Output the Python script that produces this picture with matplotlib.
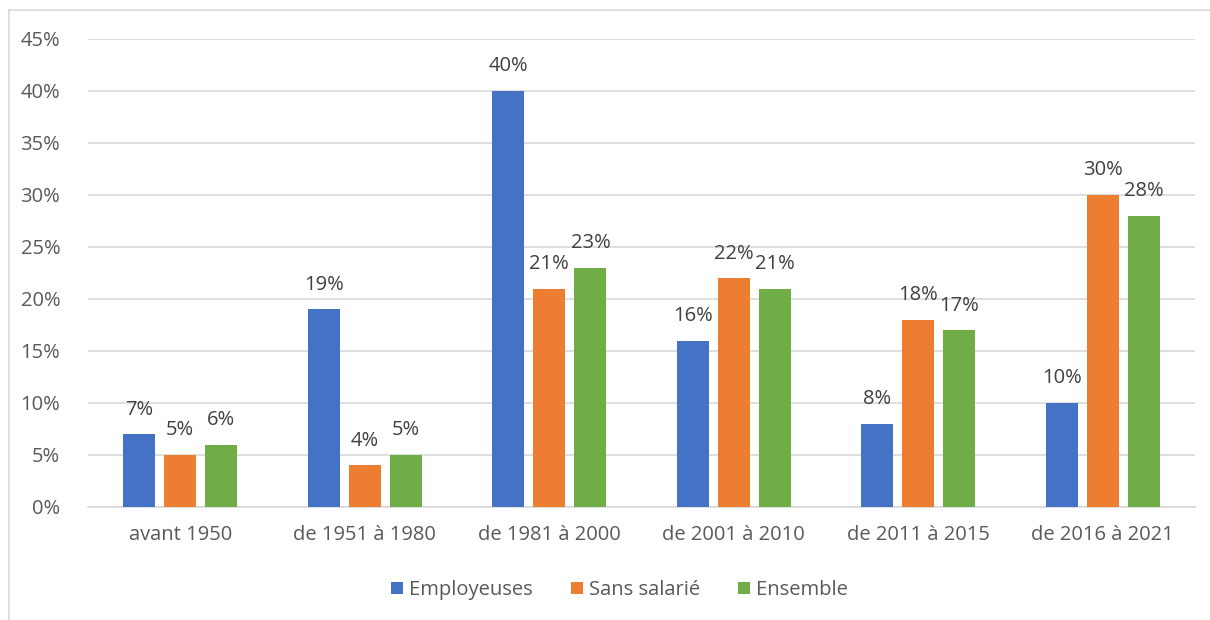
import numpy as np
import matplotlib
matplotlib.use('Agg')
import matplotlib.pyplot as plt
from matplotlib.lines import Line2D

categories = ['avant 1950', 'de 1951 à 1980', 'de 1981 à 2000',
              'de 2001 à 2010', 'de 2011 à 2015', 'de 2016 à 2021']
employeuses = [7, 19, 40, 16, 8, 10]
sans_salarie = [5, 4, 21, 22, 18, 30]
ensemble = [6, 5, 23, 21, 17, 28]

series = [('Employeuses', employeuses, '#4472c4'),
          ('Sans salarié', sans_salarie, '#ed7d31'),
          ('Ensemble', ensemble, '#70ad47')]

plt.rcParams['font.family'] = ['Open Sans', 'DejaVu Sans']
txt = '#595959'
fs = 14.5

fig = plt.figure(figsize=(12.1, 6.2), dpi=100)
ax = fig.add_axes([88 / 1210, 1 - 507 / 620, (1195 - 88) / 1210, (507 - 39) / 620])

# light border (top and left edges visible only, chart is cropped)
bx, by = 9 / 1210, 1 - 10 / 620
fig.lines.append(Line2D([bx, 1.0], [by, by], transform=fig.transFigure,
                        color='#d9d9d9', linewidth=1.2))
fig.lines.append(Line2D([bx, bx], [0, by], transform=fig.transFigure,
                        color='#d9d9d9', linewidth=1.2))

x = np.arange(len(categories))
width = 0.174
offset = 0.223
for i, (name, vals, col) in enumerate(series):
    pos = x + (i - 1) * offset
    bars = ax.bar(pos, np.array(vals) / 100, width, color=col, label=name, zorder=3)
    for b, v in zip(bars, vals):
        ax.text(b.get_x() + b.get_width() / 2, b.get_height() + 0.014, f'{v}%',
                ha='center', va='bottom', fontsize=fs, color='#404040')

ax.set_ylim(0, 0.45)
ax.set_xlim(-0.5, len(categories) - 0.5)
ax.set_yticks(np.arange(0, 0.451, 0.05))
ax.set_yticklabels([f'{int(round(t * 100))}%' for t in np.arange(0, 0.451, 0.05)])
ax.set_xticks(x)
ax.set_xticklabels(categories)
ax.tick_params(axis='both', length=0, labelsize=fs, colors=txt)
ax.tick_params(axis='x', pad=13)
ax.tick_params(axis='y', pad=20)
ax.grid(axis='y', color='#d9d9d9', linewidth=1.2, zorder=0)
for s in ['top', 'right', 'left']:
    ax.spines[s].set_visible(False)
ax.spines['bottom'].set_color('#d9d9d9')
ax.spines['bottom'].set_linewidth(1.2)

fig.legend(loc='center', bbox_to_anchor=(0.512, 1 - 590 / 620), ncol=3,
           frameon=False, fontsize=fs, handlelength=0.6, handleheight=0.6,
           handletextpad=0.3, columnspacing=1.9, labelcolor=txt)

fig.savefig('out.png', dpi=100)
